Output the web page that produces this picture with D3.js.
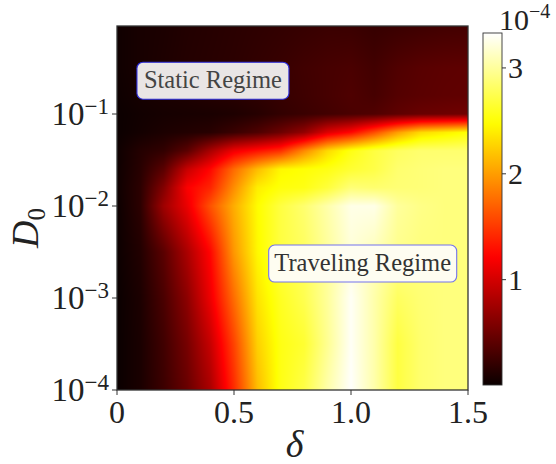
<!DOCTYPE html>
<html>
<head>
<meta charset="utf-8">
<script src="https://cdn.jsdelivr.net/npm/d3@7"></script>
<style>
  body { margin: 0; background: #fff; }
</style>
</head>
<body>
<svg id="chart" width="556" height="464" font-family="'Liberation Serif', 'DejaVu Serif', 'Times New Roman', serif"></svg>
<script>
/* globals d3 */
// simulation grid: delta (columns) x D0 (rows, bottom to top)
const deltas = [0, 0.1, 0.2, 0.3, 0.4, 0.5, 0.6, 0.7, 0.8, 0.9, 1.0, 1.1, 1.2, 1.3, 1.4, 1.5]
const d0s = [1e-4, 3.16e-4, 1e-3, 3.16e-3, 1e-2, 1.58e-2, 2.51e-2, 3.98e-2, 6.31e-2, 1e-1, 1.58e-1, 3.16e-1, 0.905]
// front speed, units of 1e-4, one row per D0
const speed = [
  [0.00, 0.08, 0.25, 0.47, 0.80, 1.43, 2.15, 2.55, 2.72, 3.05, 3.32, 3.05, 2.70, 2.85, 2.90, 2.90],
  [0.00, 0.08, 0.27, 0.54, 0.94, 1.55, 2.25, 2.55, 2.65, 2.97, 3.30, 3.05, 2.70, 2.85, 2.90, 2.90],
  [0.00, 0.09, 0.32, 0.65, 1.14, 1.76, 2.35, 2.60, 2.75, 3.00, 3.30, 3.05, 2.80, 2.87, 2.90, 2.90],
  [0.01, 0.12, 0.40, 0.80, 1.25, 1.97, 2.45, 2.70, 2.80, 3.00, 3.20, 3.10, 2.95, 2.90, 2.90, 2.90],
  [0.01, 0.17, 0.74, 1.12, 1.63, 2.08, 2.47, 2.70, 2.85, 3.05, 3.25, 3.25, 3.00, 2.93, 2.90, 2.90],
  [0.02, 0.17, 0.60, 1.20, 1.40, 1.92, 2.40, 2.52, 2.55, 2.68, 2.88, 2.85, 2.87, 2.88, 2.90, 2.90],
  [0.02, 0.15, 0.40, 0.94, 1.25, 1.75, 2.15, 2.45, 2.50, 2.55, 2.65, 2.72, 2.85, 2.88, 2.90, 2.90],
  [0.02, 0.13, 0.20, 0.40, 0.79, 1.14, 1.30, 1.45, 1.90, 2.30, 2.55, 2.70, 2.80, 2.85, 2.85, 2.85],
  [0.01, 0.05, 0.09, 0.12, 0.15, 0.24, 0.34, 0.49, 0.68, 1.05, 1.25, 1.60, 2.00, 2.30, 2.40, 2.50],
  [0.01, 0.04, 0.06, 0.07, 0.08, 0.10, 0.14, 0.20, 0.24, 0.28, 0.32, 0.35, 0.42, 0.47, 0.49, 0.51],
  [0.02, 0.06, 0.08, 0.10, 0.13, 0.15, 0.18, 0.22, 0.26, 0.30, 0.34, 0.30, 0.37, 0.40, 0.42, 0.43],
  [0.03, 0.07, 0.10, 0.13, 0.15, 0.17, 0.20, 0.23, 0.27, 0.30, 0.32, 0.28, 0.35, 0.39, 0.41, 0.42],
  [0.03, 0.07, 0.09, 0.12, 0.14, 0.16, 0.18, 0.20, 0.22, 0.24, 0.24, 0.22, 0.24, 0.26, 0.28, 0.29]
]
const xTicks = [0, 0.5, 1.0, 1.5]
const xTickLabels = ['0', '0.5', '1.0', '1.5']
const yTicks = [1e-4, 1e-3, 1e-2, 1e-1]
const yTickExps = ['\u22124', '\u22123', '\u22122', '\u22121']
const cbTicks = [1, 2, 3]
const vRange = [0.005, 3.33]
const notes = [
  { text: 'Static Regime', delta: 0.41, d0: 0.23 },
  { text: 'Traveling Regime', delta: 1.05, d0: 0.00237 }
]

const svg = d3.select('#chart')
const L = 117, R = 468, T = 26, B = 390
const x = d3.scaleLinear().domain([0, 1.5]).range([L, R])
const y = d3.scaleLog().domain([d0s[0], d0s[d0s.length - 1]]).range([B, T])

// matplotlib 'hot'
const hot = t => {
  const c = v => Math.max(0, Math.min(1, v))
  const r = c(0.0416 + 0.9584 * t / 0.365079)
  const g = c((t - 0.365079) / 0.380953)
  const b = c((t - 0.746032) / 0.253968)
  return [r * 255, g * 255, b * 255]
}
const color = d3.scaleLinear().domain(vRange).range([0, 1]).clamp(true)

// bilinear (gouraud-like) field on canvas
const logs = d0s.map(Math.log10)
const W = R - L, H = B - T
const canvas = document.createElement('canvas')
canvas.width = W
canvas.height = H
const ctx = canvas.getContext('2d')
const img = ctx.createImageData(W, H)
for (let py = 0; py < H; py++) {
  const ly = Math.log10(y.invert(T + py + 0.5))
  let j = Math.min(Math.max(d3.bisectRight(logs, ly) - 1, 0), logs.length - 2)
  const fy = Math.max(0, Math.min(1, (ly - logs[j]) / (logs[j + 1] - logs[j])))
  for (let px = 0; px < W; px++) {
    const dx = x.invert(L + px + 0.5)
    let i = Math.min(Math.max(d3.bisectRight(deltas, dx) - 1, 0), deltas.length - 2)
    const fx = Math.max(0, Math.min(1, (dx - deltas[i]) / (deltas[i + 1] - deltas[i])))
    const v = (1 - fy) * ((1 - fx) * speed[j][i] + fx * speed[j][i + 1]) +
      fy * ((1 - fx) * speed[j + 1][i] + fx * speed[j + 1][i + 1])
    const [r, g, b] = hot(color(v))
    const k = (py * W + px) * 4
    img.data[k] = r
    img.data[k + 1] = g
    img.data[k + 2] = b
    img.data[k + 3] = 255
  }
}
ctx.putImageData(img, 0, 0)
svg.append('image')
  .attr('x', L).attr('y', T).attr('width', W).attr('height', H)
  .attr('preserveAspectRatio', 'none')
  .attr('href', canvas.toDataURL())

// annotation boxes
const boxStyle = [
  { w: 152, h: 37, fill: '#e9e5e5', stroke: '#2b2bdc', ink: '#444' },
  { w: 188, h: 37, fill: '#fefdf1', stroke: '#7373ee', ink: '#333' }
]
notes.forEach((n, k) => {
  const s = boxStyle[k]
  const cx = x(n.delta), cy = y(n.d0)
  svg.append('rect')
    .attr('x', cx - s.w / 2).attr('y', cy - s.h / 2)
    .attr('width', s.w).attr('height', s.h)
    .attr('rx', 6)
    .attr('fill', s.fill)
    .attr('stroke', s.stroke)
    .attr('stroke-width', 1.1)
  svg.append('text')
    .attr('x', cx).attr('y', cy + 7)
    .attr('text-anchor', 'middle')
    .attr('font-size', 24.5)
    .attr('fill', s.ink)
    .text(n.text)
})

// frame + ticks
svg.append('rect')
  .attr('x', L).attr('y', T).attr('width', W).attr('height', H)
  .attr('fill', 'none').attr('stroke', '#333').attr('stroke-width', 1.3)

const gx = svg.append('g').attr('fill', '#222')
gx.selectAll('line').data(xTicks).join('line')
  .attr('x1', d => x(d)).attr('x2', d => x(d))
  .attr('y1', B).attr('y2', B + 5)
  .attr('stroke', '#333').attr('stroke-width', 1)
gx.selectAll('text').data(xTicks).join('text')
  .attr('x', d => x(d)).attr('y', B + 33)
  .attr('text-anchor', 'middle')
  .attr('font-size', 32)
  .text((d, i) => xTickLabels[i])

const gy = svg.append('g').attr('fill', '#222')
gy.selectAll('line').data(yTicks).join('line')
  .attr('x1', L - 5).attr('x2', L)
  .attr('y1', d => y(d)).attr('y2', d => y(d))
  .attr('stroke', '#333').attr('stroke-width', 1)
const yl = gy.selectAll('text').data(yTicks).join('text')
  .attr('x', 109).attr('y', d => y(d) + 11)
  .attr('text-anchor', 'end')
  .attr('font-size', 33)
yl.append('tspan').text('10')
yl.append('tspan').attr('dy', -11).attr('font-size', 23).text((d, i) => yTickExps[i])

// axis labels
svg.append('text')
  .attr('x', (L + R) / 2 + 2).attr('y', 457)
  .attr('text-anchor', 'middle')
  .attr('font-size', 38)
  .attr('font-style', 'italic')
  .attr('fill', '#222')
  .text('\u03b4')
const yt = svg.append('text')
  .attr('transform', 'translate(38,248) rotate(-90)')
  .attr('font-size', 38)
  .attr('fill', '#222')
yt.append('tspan').attr('font-style', 'italic').text('D')
yt.append('tspan').attr('dy', 7).attr('font-size', 25).text('0')

// colorbar
const cb = { x: 483, w: 19, top: 33, bottom: 385 }
const cy = d3.scaleLinear().domain(vRange).range([cb.bottom, cb.top])
const grad = svg.append('defs').append('linearGradient')
  .attr('id', 'hotgrad').attr('x1', 0).attr('y1', 1).attr('x2', 0).attr('y2', 0)
grad.selectAll('stop').data(d3.range(0, 1.0001, 0.02)).join('stop')
  .attr('offset', d => d)
  .attr('stop-color', d => { const [r, g, b] = hot(d); return d3.rgb(r, g, b).formatHex() })
svg.append('rect')
  .attr('x', cb.x).attr('y', cb.top).attr('width', cb.w).attr('height', cb.bottom - cb.top)
  .attr('fill', 'url(#hotgrad)')
  .attr('stroke', '#333').attr('stroke-width', 0.9)
const gc = svg.append('g').attr('fill', '#222')
gc.selectAll('line').data(cbTicks).join('line')
  .attr('x1', cb.x + cb.w).attr('x2', cb.x + cb.w + 4)
  .attr('y1', d => cy(d)).attr('y2', d => cy(d))
  .attr('stroke', '#333').attr('stroke-width', 1)
gc.selectAll('text').data(cbTicks).join('text')
  .attr('x', cb.x + cb.w + 6).attr('y', d => cy(d) + 10)
  .attr('font-size', 30)
  .text(d => d)
const ce = svg.append('text')
  .attr('x', 499).attr('y', 30)
  .attr('font-size', 30)
  .attr('fill', '#222')
ce.append('tspan').text('10')
ce.append('tspan').attr('dy', -12).attr('font-size', 20).text('\u22124')
</script>
</body>
</html>
